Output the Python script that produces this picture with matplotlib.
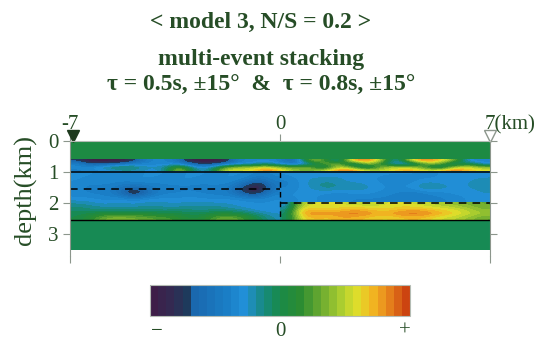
import numpy as np
import matplotlib.pyplot as plt
from matplotlib.colors import LinearSegmentedColormap, Normalize

plt.rcParams['font.family'] = 'Liberation Serif'
TXT = '#264d26'

# layer boundaries (km)
x_min, x_max = -7, 7
fault_x = 0
d_top = 0.6
d_reflector = 1.0
d_dash_left = 1.55
d_dash_right = 2.0
d_base = 2.55
d_end = 3.5

# stacked amplitudes (-1 .. +1)
top_layer = [[0.0]]

# 0.6 - 1.0 km, nodes x = -7 .. 7 every 0.5 km
shallow_layer = [
    [-0.7, -1, -1, -1, -0.7, -0.35, -0.35, -0.5, -1, -1, -1, -0.4, -0.35, -0.3, -0.4,
     -0.7, 0.4, 0.3, -0.35, 0.8, 0.9, 0.5, -0.4, 0.6, 0.9, 0.7, 0.4, -0.35, -0.35],
    [-0.35, -0.7, -0.6, -0.5, -0.35, -0.35, -0.35, -0.3, -0.6, -0.8, -0.5, -0.35, -0.3, -0.1, -0.3,
     -0.5, -0.3, 0.3, 0.4, -0.3, 0.5, 0.1, -0.35, -0.35, 0.3, 0.4, -0.3, 0.1, -0.3],
    [-0.35, -0.3, -0.15, 0.0, -0.1, -0.25, -0.2, 0.3, -0.2, -0.35, 0.2, 0.45, 0.5, 0.6, 0.4,
     0.3, 0.5, -0.3, 0.6, 0.3, -0.3, 0.4, 0.55, 0.5, 0.2, -0.3, 0.5, 0.6, 0.4],
    [-0.4, -0.35, -0.3, -0.2, -0.2, -0.3, -0.25, 0.6, -0.1, -0.3, 0.5, 0.6, 0.55, 0.9, 0.7,
     0.4, 0.3, 0.55, 0.85, 0.9, 0.6, 0.5, 0.65, 0.8, 0.6, 0.7, 0.9, 0.7, 0.6],
]

# west block 1.0 - 2.55 km, x = -7 .. 0
left_block = [
    [-0.3, -0.3, -0.35, -0.3, -0.35, -0.3, -0.3, -0.35, -0.3, -0.3, -0.35, -0.3, -0.3, -0.4, -0.35],
    [-0.3, -0.35, -0.3, -0.35, -0.3, -0.3, -0.35, -0.3, -0.3, -0.35, -0.3, -0.3, -0.4, -0.6, -0.4],
    [-0.35, -0.4, -0.4, -0.45, -0.55, -0.45, -0.4, -0.4, -0.4, -0.4, -0.4, -0.45, -0.75, -1, -0.5],
    [-0.35, -0.4, -0.4, -0.55, -1, -0.65, -0.4, -0.4, -0.35, -0.4, -0.4, -0.45, -0.85, -0.85, -0.4],
    [-0.3, -0.3, -0.35, -0.3, -0.35, -0.3, -0.3, -0.3, -0.3, -0.3, -0.35, -0.3, -0.3, -0.35, -0.3],
    [-0.15, -0.2, -0.25, -0.2, -0.25, -0.2, -0.2, -0.25, -0.2, -0.2, -0.2, -0.25, -0.3, -0.3, -0.3],
    [-0.05, -0.1, -0.1, -0.15, -0.1, -0.1, -0.15, -0.1, -0.1, -0.15, -0.1, -0.15, -0.2, -0.3, -0.3],
    [0.0, 0.15, 0.35, 0.4, 0.35, 0.3, 0.25, 0.2, 0.05, 0.1, 0.3, 0.35, 0.2, 0.0, -0.2],
]

# east block 1.0 - 2.0 km, x = 0 .. 7
right_upper = [
    [-0.3, -0.25, -0.3, -0.3, -0.25, -0.3, -0.3, -0.3, -0.3, -0.3, -0.35, -0.3, -0.3, -0.3, -0.3],
    [-0.4, -0.3, -0.2, -0.2, -0.25, -0.3, -0.3, -0.35, -0.4, -0.35, -0.3, -0.3, -0.3, -0.25, -0.2],
    [-0.4, -0.3, -0.2, -0.1, -0.2, -0.15, -0.25, -0.3, -0.3, -0.25, -0.1, -0.2, -0.25, -0.25, -0.2],
    [-0.3, -0.3, -0.3, -0.35, -0.35, -0.3, -0.3, -0.35, -0.4, -0.45, -0.4, -0.35, -0.3, -0.3, -0.25],
    [-0.35, -0.3, -0.3, -0.35, -0.35, -0.4, -0.4, -0.4, -0.4, -0.45, -0.4, -0.4, -0.35, -0.3, -0.3],
]

# east block 2.0 - 2.55 km (bright layer), x = 0 .. 7
right_lower = [
    [-0.3, 0.5, 0.55, 0.6, 0.55, 0.5, 0.5, 0.55, 0.6, 0.55, 0.5, 0.45, 0.4, 0.35, 0.3],
    [-0.2, 0.65, 0.65, 0.6, 0.65, 0.7, 0.65, 0.6, 0.65, 0.7, 0.65, 0.6, 0.55, 0.45, 0.35],
    [-0.1, 0.75, 0.85, 0.8, 0.85, 0.9, 0.8, 0.75, 0.85, 0.9, 0.85, 0.75, 0.65, 0.55, 0.45],
    [-0.1, 0.6, 0.7, 0.65, 0.75, 0.7, 0.65, 0.6, 0.65, 0.7, 0.65, 0.55, 0.5, 0.4, 0.3],
]

bottom_layer = [[-0.04]]

# colour scale as in the legend bar
cmap = LinearSegmentedColormap.from_list('stack', [
    (0.00, '#3e1e48'), (0.07, '#332a52'), (0.13, '#1e3a5c'), (0.14, '#1a64aa'),
    (0.30, '#1a80c8'), (0.36, '#2290d8'), (0.41, '#1a8a98'), (0.47, '#168a60'),
    (0.50, '#1a8a48'), (0.58, '#2a8c32'), (0.66, '#6aaa30'), (0.74, '#a8cc30'),
    (0.80, '#dce02c'), (0.86, '#f2bc22'), (0.92, '#ea8c1e'), (1.00, '#cc4410'),
], N=32)
norm = Normalize(vmin=-1, vmax=1)

fig = plt.figure(figsize=(5.55, 3.42), dpi=100)
ax = fig.add_axes([70 / 555, 1 - 255.5 / 342, 420 / 555, 114.5 / 342])

blocks = [
    (top_layer, (x_min, x_max, d_top, 0)),
    (shallow_layer, (x_min, x_max, d_reflector, d_top)),
    (left_block, (x_min, fault_x, d_base, d_reflector)),
    (right_upper, (fault_x, x_max, d_dash_right, d_reflector)),
    (right_lower, (fault_x, x_max, d_base, d_dash_right)),
    (bottom_layer, (x_min, x_max, d_end, d_base)),
]
for vals, ext in blocks:
    im = ax.imshow(np.array(vals), cmap=cmap, norm=norm, extent=ext, origin='upper',
                   aspect='auto', interpolation='bicubic', interpolation_stage='data')

# model interfaces
ax.plot([x_min, x_max], [d_reflector, d_reflector], color='black', lw=1.1)
ax.plot([x_min, fault_x], [d_dash_left, d_dash_left], color='black', lw=1.1, ls=(0, (5, 4)))
ax.plot([fault_x, x_max], [d_dash_right, d_dash_right], color='black', lw=1.1, ls=(0, (5, 4)))
ax.plot([x_min, x_max], [d_base, d_base], color='black', lw=1.0)
ax.plot([fault_x, fault_x], [d_reflector, d_base], color='black', lw=1.0, ls=(0, (4, 3)))

ax.set_xlim(x_min, x_max)
ax.set_ylim(3.68, 0)

for side in ['left', 'right']:
    ax.spines[side].set_color('#8c968c')
ax.spines['top'].set_color('#b4bcb4')
ax.spines['bottom'].set_visible(False)

# station markers
ax.plot(x_min + 0.1, -0.17, marker='v', ms=8, color='#1e3a1e', clip_on=False)
ax.plot(x_max, -0.17, marker='v', ms=8, mfc='white', mec='#8c968c', mew=1, clip_on=False)

ax.set_yticks([0, 1, 2, 3])
ax.tick_params(axis='y', left=True, right=True, labelright=False, direction='out',
               length=5, width=0.8, color='#8c968c', labelsize=15, labelcolor=TXT, pad=3)
ax.set_xticks([-7, 0, 7])
ax.set_xticklabels(['-7', '0', ''])
ax.tick_params(axis='x', top=True, labeltop=True, bottom=True, labelbottom=False,
               direction='out', length=5, width=0.8, color='#8c968c', labelsize=15,
               labelcolor=TXT, pad=0)
ax.annotate('7(km)', xy=(x_max, 1), xycoords=('data', 'axes fraction'),
            xytext=(-4, 5), textcoords='offset points', fontsize=15, color=TXT,
            ha='left', va='bottom', annotation_clip=False)

fig.text(25 / 555, 1 - 190 / 342, 'depth(km)', rotation=90, fontsize=19,
         color=TXT, ha='center', va='center')

# titles
fig.text(0.47, 1 - 22 / 342, '< model 3, N/S = 0.2 >', fontsize=17, fontweight='bold',
         color=TXT, ha='center', va='center')
fig.text(0.47, 1 - 59 / 342, 'multi-event stacking', fontsize=17, fontweight='bold',
         color=TXT, ha='center', va='center')
fig.text(0.47, 1 - 85 / 342, 'τ = 0.5s, ±15°  &  τ = 0.8s, ±15°', fontsize=17,
         fontweight='bold', color=TXT, ha='center', va='center')

# colour bar
cax = fig.add_axes([150 / 555, 1 - 316 / 342, 260 / 555, 31 / 342])
cb = fig.colorbar(im, cax=cax, orientation='horizontal')
cb.outline.set_edgecolor('#b4bcb4')
cax.set_xticks([-0.95, 0, 0.96])
cax.set_xticklabels(['−', '0', '+'])
cax.set_xticks([0], minor=True)
cax.tick_params(axis='x', which='major', length=0, labelsize=15, labelcolor=TXT, pad=4)
cax.tick_params(axis='x', which='minor', length=4, color='#b4bcb4')

fig.savefig('out.png', dpi=100)
